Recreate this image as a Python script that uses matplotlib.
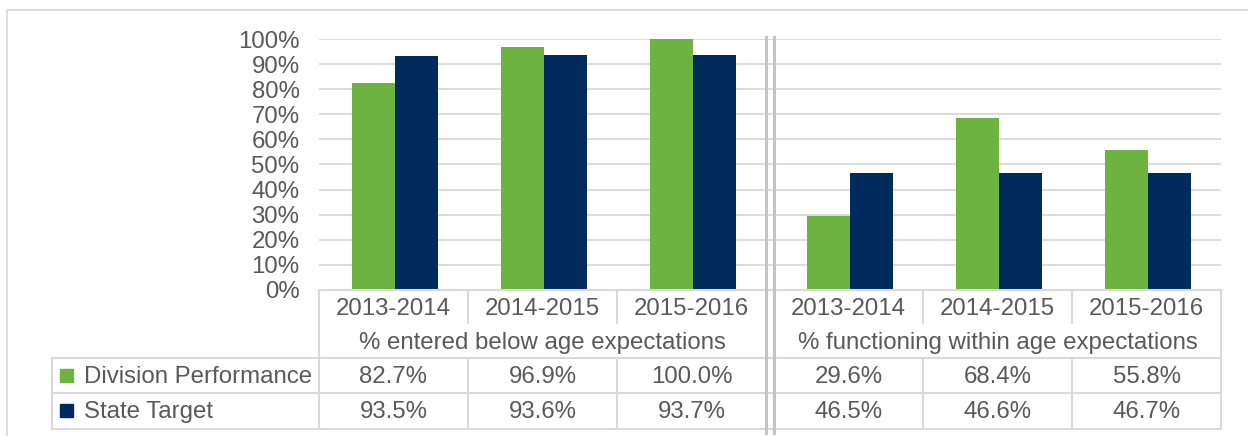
import matplotlib
matplotlib.use("Agg")
import matplotlib.pyplot as plt
from matplotlib.patches import Rectangle
from matplotlib.ticker import PercentFormatter
from matplotlib.transforms import blended_transform_factory
import numpy as np

years = ["2013-2014", "2014-2015", "2015-2016", "2013-2014", "2014-2015", "2015-2016"]
groups = ["% entered below age expectations", "% functioning within age expectations"]
series_names = ["Division Performance", "State Target"]
division = [82.7, 96.9, 100.0, 29.6, 68.4, 55.8]
state = [93.5, 93.6, 93.7, 46.5, 46.6, 46.7]
colors = ["#6DB33F", "#002B5C"]

plt.rcParams['font.family'] = ['Liberation Sans', 'DejaVu Sans']
TXT = "#595959"
GRID = "#D9D9D9"
FS = 17.3

W, H = 1248, 436
fig = plt.figure(figsize=(W / 100, H / 100), dpi=100)

gap = 0.054
ncat = len(years)
xmax = ncat + gap
ax = fig.add_axes([319 / W, (H - 289.5) / H, 902 / W, 250 / H])
ax.set_xlim(0, xmax)
ax.set_ylim(0, 100)
offs = np.array([0 if i < 3 else gap for i in range(ncat)])
centers = np.arange(ncat) + 0.5 + offs
bw = 0.29
shift = 0.01
ax.bar(centers + shift - bw / 2, division, bw, color=colors[0], zorder=3)
ax.bar(centers + shift + bw / 2, state, bw, color=colors[1], zorder=3)
ax.set_yticks(np.arange(0, 101, 10))
ax.yaxis.set_major_formatter(PercentFormatter(decimals=0))
ax.tick_params(axis='y', length=0, pad=14, labelsize=FS, labelcolor=TXT)
ax.set_xticks([])
for s in ax.spines.values():
    s.set_visible(False)
for v in np.arange(10, 101, 10):
    ax.axhline(v, color=GRID, lw=1.3, zorder=1)
ax.patch.set_alpha(0)

ov = fig.add_axes([0, 0, 1, 1], zorder=5)
ov.set_xlim(0, W)
ov.set_ylim(H, 0)
ov.axis('off')
bt = blended_transform_factory(ax.transData, ov.transData)

lw = 1.5
# outer frame
ov.plot([7, 7, W], [H, 10, 10], color=GRID, lw=1.3)

# table horizontal lines
ov.plot([0, xmax], [290, 290], color=GRID, lw=lw, transform=bt)
for y in [358, 393, 429]:
    ov.plot([52, 1221], [y, y], color=GRID, lw=lw)
# table outer verticals
for x in [0, xmax]:
    ov.plot([x, x], [290, 429], color=GRID, lw=lw, transform=bt)
ov.plot([52, 52], [358, 429], color=GRID, lw=lw)
# cell separators
for x in [1, 2, 4 + gap, 5 + gap]:
    ov.plot([x, x], [290, 323], color=GRID, lw=lw, transform=bt)
    ov.plot([x, x], [358, 429], color=GRID, lw=lw, transform=bt)
# double divider
for x in [3, 3 + gap]:
    ov.plot([x, x], [37, 433], color="#C4C4C4", lw=2.2, transform=bt)

# text
for c, yl in zip(centers, years):
    ov.text(c, 315, yl, ha='center', va='baseline', fontsize=FS, color=TXT, transform=bt)
ov.text(1.5, 349, groups[0], ha='center', va='baseline', fontsize=FS, color=TXT, transform=bt)
ov.text(4.5 + gap, 349, groups[1], ha='center', va='baseline', fontsize=FS, color=TXT, transform=bt)
for row_y, vals in zip([383, 418], [division, state]):
    for c, v in zip(centers, vals):
        ov.text(c, row_y, f"{v:.1f}%", ha='center', va='baseline', fontsize=FS, color=TXT, transform=bt)
for row_y, name, col in zip([383, 418], series_names, colors):
    ov.add_patch(Rectangle((60, row_y - 14.5), 13, 13, color=col))
    ov.text(84, row_y, name, ha='left', va='baseline', fontsize=FS, color=TXT)

fig.savefig("out.png", dpi=100)
